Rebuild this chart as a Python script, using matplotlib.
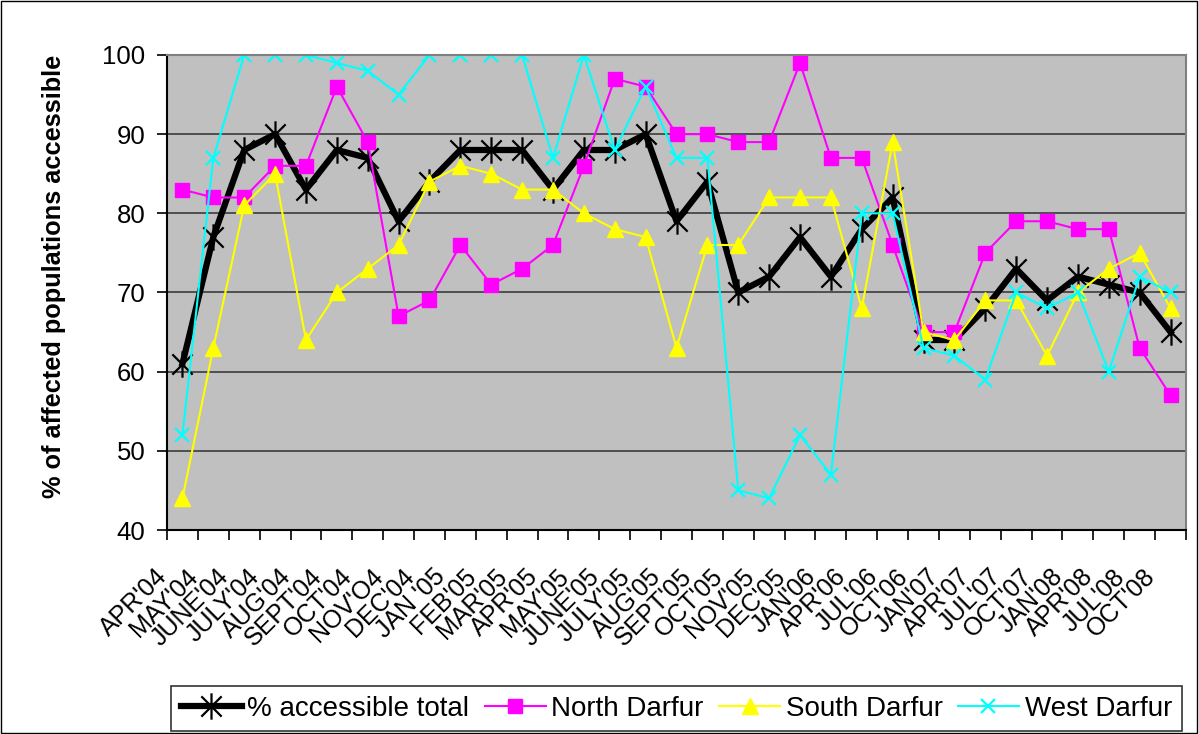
import numpy as np
import matplotlib
matplotlib.use("Agg")
import matplotlib.pyplot as plt
from matplotlib.path import Path
from matplotlib.patches import Rectangle
from matplotlib.transforms import ScaledTranslation

plt.rcParams['font.family'] = ['Liberation Sans', 'DejaVu Sans']

months = ["APR'04", "MAY'04", "JUNE'04", "JULY'04", "AUG'04", "SEPT'04", "OCT'04",
          "NOV'O4", "DEC'04", "JAN '05", "FEB'05", "MAR'05", "APR'05", "MAY'05",
          "JUNE'05", "JULY'05", "AUG'05", "SEPT'05", "OCT'05", "NOV'05", "DEC'05",
          "JAN'06", "APR'06", "JUL'06", "OCT'06", "JAN'07", "APR'07", "JUL'07",
          "OCT'07", "JAN'08", "APR'08", "JUL'08", "OCT'08"]

total = [61, 77, 88, 90, 83, 88, 87, 79, 84, 88, 88, 88, 83, 88, 88, 90, 79,
         84, 70, 72, 77, 72, 78, 82, 64, 64, 68, 73, 69, 72, 71, 70, 65]
north = [83, 82, 82, 86, 86, 96, 89, 67, 69, 76, 71, 73, 76, 86, 97, 96, 90,
         90, 89, 89, 99, 87, 87, 76, 65, 65, 75, 79, 79, 78, 78, 63, 57]
south = [44, 63, 81, 85, 64, 70, 73, 76, 84, 86, 85, 83, 83, 80, 78, 77, 63,
         76, 76, 82, 82, 82, 68, 89, 65, 64, 69, 69, 62, 70, 73, 75, 68]
west = [52, 87, 100, 100, 100, 99, 98, 95, 100, 100, 100, 100, 87, 100, 88, 96, 87,
        87, 45, 44, 52, 47, 80, 80, 63, 62, 59, 70, 68, 70, 60, 72, 70]

# excel style asterisk: an x with a vertical bar through it
star = Path([(-1, -1), (1, 1), (-1, 1), (1, -1), (0, -1.3), (0, 1.3)],
            [Path.MOVETO, Path.LINETO, Path.MOVETO, Path.LINETO, Path.MOVETO, Path.LINETO])

fig = plt.figure(figsize=(11.99, 7.34), dpi=100)
ax = fig.add_axes([167 / 1199, 1 - 530 / 734, 1019 / 1199, 475 / 734])
ax.set_facecolor('#C0C0C0')

x = np.arange(len(months))

ax.plot(x, total, color='black', lw=4.5, marker=star, ms=19, mew=1.6,
        mec='black', label='% accessible total')
ax.plot(x, north, color='#FF00FF', lw=1.5, marker='s', ms=9.5,
        mec='#FF00FF', mfc='#FF00FF', label='North Darfur')
ax.plot(x, south, color='#FFFF00', lw=1.5, marker='^', ms=11,
        mec='#FFFF00', mfc='#FFFF00', label='South Darfur')
ax.plot(x, west, color='#00FFFF', lw=1.5, marker='x', ms=10, mew=1.6,
        mec='#00FFFF', label='West Darfur')

ax.set_xlim(-0.5, len(months) - 0.5)
ax.set_ylim(40, 100)
ax.set_yticks(np.arange(40, 101, 10))
for yv in range(50, 100, 10):
    ax.axhline(yv, color='#303030', lw=1.1, zorder=0.5)

ax.set_xticks(x)
ax.set_xticklabels(months, rotation=45, ha='right', va='center',
                   rotation_mode='anchor', fontsize=18)
ax.set_xticks(np.arange(-0.5, len(months), 1), minor=True)
ax.tick_params(axis='x', which='major', length=0, pad=31)
ax.tick_params(axis='x', which='minor', length=7, width=1.2, direction='out')
ax.tick_params(axis='y', length=7, width=1.2, direction='out', labelsize=18.5, pad=8.5)
shift = ScaledTranslation(-19 / 100, 0, fig.dpi_scale_trans)
for lab in ax.get_xticklabels():
    lab.set_transform(lab.get_transform() + shift)

for s in ['left', 'bottom']:
    ax.spines[s].set_color('black')
    ax.spines[s].set_linewidth(1.5)
for s in ['top', 'right']:
    ax.spines[s].set_color('#808080')
    ax.spines[s].set_linewidth(1.5)

ax.set_ylabel('% of affected populations accessible', fontsize=18.3,
              fontweight='bold')
ax.yaxis.set_label_coords(-0.099, 0.533)

leg = fig.legend(loc='upper left', bbox_to_anchor=(171 / 1199, 1 - 686 / 734), ncol=4,
                 fontsize=20, frameon=True, fancybox=False, edgecolor='black',
                 handlelength=2.2, columnspacing=0.55, handletextpad=0.2,
                 borderpad=0.35, borderaxespad=0)
leg.get_frame().set_linewidth(1.2)

fig.patches.append(Rectangle((0.001, 0.001), 0.997, 0.997, transform=fig.transFigure,
                             fill=False, edgecolor='black', lw=1))

fig.savefig('out.png', dpi=100)
